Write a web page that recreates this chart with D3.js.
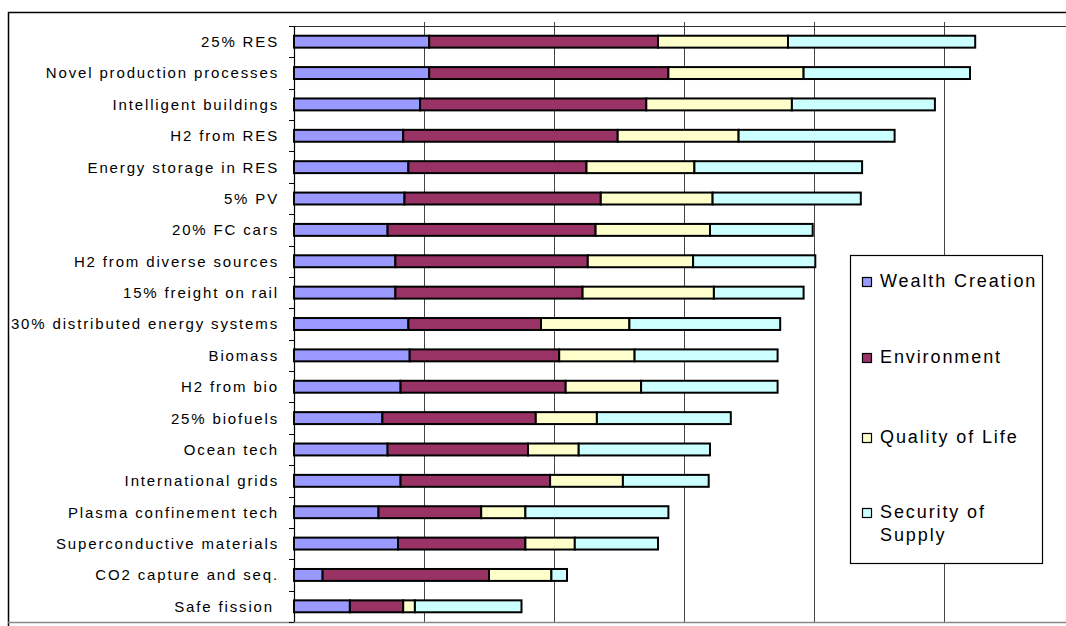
<!DOCTYPE html>
<html>
<head>
<meta charset="utf-8">
<script src="https://cdn.jsdelivr.net/npm/d3@7"></script>
<style>
  html, body { margin: 0; padding: 0; background: #fff; }
  svg { display: block; }
  text { font-family: Arial, "Liberation Sans", sans-serif; }
</style>
</head>
<body>
<svg id="chart" width="1066" height="626"></svg>
<script>
const categories = [
  "25% RES", "Novel production processes", "Intelligent buildings", "H2 from RES",
  "Energy storage in RES", "5% PV", "20% FC cars", "H2 from diverse sources",
  "15% freight on rail", "30% distributed energy systems", "Biomass", "H2 from bio",
  "25% biofuels", "Ocean tech", "International grids", "Plasma confinement tech",
  "Superconductive materials", "CO2 capture and seq.", "Safe fission"
];
const seriesNames = ["Wealth Creation", "Environment", "Quality of Life", "Security of Supply"];
const wealthCreation = [10.4, 10.4, 9.7, 8.4, 8.8, 8.5, 7.2, 7.8, 7.8, 8.8, 8.9, 8.2, 6.8, 7.2, 8.2, 6.5, 8.0, 2.2, 4.3];
const environment    = [17.6, 18.4, 17.4, 16.5, 13.7, 15.1, 16.0, 14.8, 14.4, 10.2, 11.5, 12.7, 11.8, 10.8, 11.5, 7.9, 9.8, 12.8, 4.1];
const qualityOfLife  = [10.0, 10.4, 11.2, 9.3, 8.3, 8.6, 8.8, 8.1, 10.1, 6.8, 5.8, 5.8, 4.7, 3.9, 5.6, 3.4, 3.8, 4.8, 0.9];
const securityOfSupply = [14.4, 12.8, 11.0, 12.0, 12.9, 11.4, 7.9, 9.4, 6.9, 11.6, 11.0, 10.5, 10.3, 10.1, 6.6, 11.0, 6.4, 1.2, 8.2];
const gridTicks = [0, 10, 20, 30, 40, 50, 60];
const colors = ["#9999FF", "#993366", "#FFFFCC", "#CCFFFF"];

const rows = categories.map((c, i) => ({
  category: c,
  "Wealth Creation": wealthCreation[i],
  "Environment": environment[i],
  "Quality of Life": qualityOfLife[i],
  "Security of Supply": securityOfSupply[i]
}));

const svg = d3.select("#chart");
const W = 1066, H = 626;
const plot = { left: 294, top: 26, bottom: 622 };

const x = d3.scaleLinear().domain([0, 60]).range([plot.left, plot.left + 780]);
const y = d3.scaleBand().domain(categories).range([plot.top, plot.bottom])
  .paddingInner(0.62).paddingOuter(0.31);
const color = d3.scaleOrdinal().domain(seriesNames).range(colors);

// outer frame
svg.append("path")
  .attr("d", `M${W + 2},12.5 H8.5 V${H + 2}`)
  .attr("fill", "none").attr("stroke", "#000").attr("stroke-width", 1.5);

// gridlines
svg.append("g").selectAll("line")
  .data(gridTicks.slice(1))
  .join("line")
  .attr("x1", d => Math.round(x(d)) + 0.5).attr("x2", d => Math.round(x(d)) + 0.5)
  .attr("y1", plot.top - 4).attr("y2", plot.bottom)
  .attr("stroke", "#444").attr("stroke-width", 1);

// top axis line
svg.append("line")
  .attr("x1", plot.left).attr("x2", W)
  .attr("y1", plot.top + 0.5).attr("y2", plot.top + 0.5)
  .attr("stroke", "#333").attr("stroke-width", 1.2);

// bottom line
svg.append("line")
  .attr("x1", 8).attr("x2", W)
  .attr("y1", plot.bottom + 0.5).attr("y2", plot.bottom + 0.5)
  .attr("stroke", "#888").attr("stroke-width", 1.5);

// left axis with ticks at category boundaries
const step = y.step();
const yAxisG = svg.append("g");
yAxisG.append("line")
  .attr("x1", plot.left + 0.5).attr("x2", plot.left + 0.5)
  .attr("y1", plot.top).attr("y2", plot.bottom)
  .attr("stroke", "#000").attr("stroke-width", 1.2);
yAxisG.selectAll("line.tick")
  .data(d3.range(categories.length + 1))
  .join("line").attr("class", "tick")
  .attr("x1", plot.left - 5).attr("x2", plot.left)
  .attr("y1", i => Math.round(plot.top + i * step) + 0.5)
  .attr("y2", i => Math.round(plot.top + i * step) + 0.5)
  .attr("stroke", "#000").attr("stroke-width", 1);

// category labels
yAxisG.selectAll("text.lbl")
  .data(categories)
  .join("text").attr("class", "lbl")
  .attr("x", d => d === "Safe fission" ? 274 : 279)
  .attr("y", d => y(d) + y.bandwidth() / 2)
  .attr("dy", "0.36em")
  .attr("text-anchor", "end")
  .attr("font-size", 15)
  .attr("letter-spacing", 1.85)
  .attr("fill", "#000")
  .text(d => d);

// stacked bars
const stack = d3.stack().keys(seriesNames);
const layers = stack(rows);
svg.append("g").selectAll("g")
  .data(layers)
  .join("g")
  .attr("fill", d => color(d.key))
  .selectAll("rect")
  .data(d => d)
  .join("rect")
  .attr("x", d => x(d[0]))
  .attr("y", d => y(d.data.category))
  .attr("width", d => x(d[1]) - x(d[0]))
  .attr("height", y.bandwidth())
  .attr("stroke", "#000")
  .attr("stroke-width", 2);

// legend
const lg = svg.append("g");
lg.append("rect")
  .attr("x", 850.5).attr("y", 255.5).attr("width", 192).attr("height", 308)
  .attr("fill", "#fff").attr("stroke", "#000").attr("stroke-width", 1.2);
const legendY = [281, 357, 437, 512];
const items = lg.selectAll("g.item")
  .data(seriesNames)
  .join("g").attr("class", "item")
  .attr("transform", (d, i) => `translate(0,${legendY[i]})`);
items.append("rect")
  .attr("x", 862.5).attr("y", -3.5).attr("width", 9).attr("height", 9)
  .attr("fill", d => color(d)).attr("stroke", "#000").attr("stroke-width", 1.2);
items.append("text")
  .attr("x", 880).attr("y", 0)
  .attr("dy", "0.36em")
  .attr("font-size", 18)
  .attr("letter-spacing", 1.9)
  .attr("fill", "#000")
  .each(function(d) {
    const t = d3.select(this);
    if (d === "Security of Supply") {
      t.append("tspan").attr("x", 880).text("Security of");
      t.append("tspan").attr("x", 880).attr("dy", 23).text("Supply");
    } else {
      t.text(d);
    }
  });
</script>
</body>
</html>
